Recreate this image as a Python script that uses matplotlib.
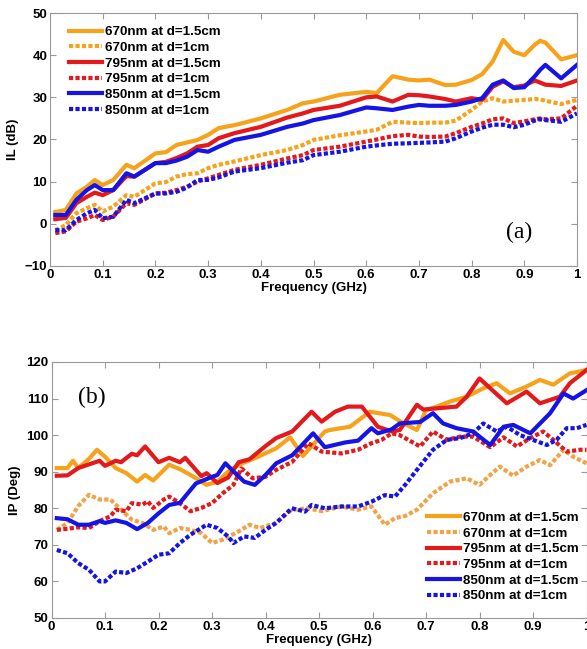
import numpy as np
import matplotlib.pyplot as plt

plt.rcParams['font.family'] = ['Liberation Sans', 'DejaVu Sans']
plt.rcParams['font.weight'] = 'bold'

# ---- panel (a): insertion loss ----
freq_a = [0.01, 0.03, 0.05, 0.07, 0.085, 0.10, 0.12, 0.145, 0.16, 0.20,
          0.22, 0.24, 0.26, 0.28, 0.30, 0.32, 0.35, 0.40, 0.45, 0.48,
          0.50, 0.55, 0.60, 0.62, 0.65, 0.68, 0.70, 0.72, 0.75, 0.77,
          0.80, 0.82, 0.84, 0.86, 0.88, 0.90, 0.92, 0.93, 0.94, 0.97, 1.00]
il_670_15 = [2.8, 3.3, 7.2, 8.8, 10.4, 9.2, 10.4, 14.0, 13.2, 16.7,
             17.0, 18.7, 19.3, 19.9, 21.1, 22.7, 23.4, 25.0, 27.0, 28.6,
             29.0, 30.6, 31.3, 31.0, 35.0, 34.2, 34.0, 34.2, 32.9, 33.0,
             34.1, 35.5, 38.5, 43.6, 40.8, 40.0, 42.5, 43.4, 43.0, 39.0, 40.0]
il_670_1 = [-1.5, -0.3, 2.5, 3.7, 4.5, 2.9, 4.1, 6.8, 6.4, 9.6,
            9.9, 11.2, 11.8, 12.0, 13.2, 14.0, 14.8, 16.3, 17.5, 18.7,
            19.9, 21.0, 21.9, 22.3, 24.2, 24.0, 23.9, 24.0, 24.0, 24.5,
            27.0, 29.0, 29.8, 29.0, 29.2, 29.4, 29.6, 29.5, 29.2, 28.4, 29.4]
il_795_15 = [1.1, 1.4, 4.9, 6.4, 7.4, 6.8, 8.0, 11.3, 11.2, 14.4,
             14.7, 15.6, 16.7, 18.3, 18.7, 20.3, 21.5, 23.0, 25.2, 26.2,
             27.0, 28.0, 30.0, 30.2, 29.0, 30.6, 30.5, 30.2, 29.6, 29.0,
             29.8, 29.4, 32.5, 33.8, 32.4, 32.8, 34.0, 33.5, 33.0, 32.7, 34.0]
il_795_1 = [-2.2, -1.8, 0.5, 1.3, 2.1, 0.9, 1.7, 4.9, 4.5, 7.2,
            7.4, 8.0, 8.8, 10.0, 10.8, 11.6, 12.8, 14.0, 15.5, 16.3,
            17.5, 18.3, 19.5, 20.0, 20.8, 21.1, 20.7, 20.6, 20.7, 21.5,
            23.0, 23.8, 24.8, 25.0, 23.9, 24.3, 24.8, 25.0, 24.8, 25.0, 28.0]
il_850_15 = [2.1, 2.1, 5.7, 8.0, 9.2, 8.0, 8.0, 12.0, 11.2, 14.4,
             14.4, 15.0, 15.9, 17.5, 17.1, 18.3, 19.9, 21.1, 23.0, 23.8,
             24.6, 25.8, 27.6, 27.4, 27.0, 27.8, 28.2, 28.0, 28.0, 28.2,
             29.0, 29.8, 33.0, 34.0, 32.2, 32.4, 35.0, 36.5, 37.7, 34.5, 37.7]
il_850_1 = [-1.5, -1.5, 0.9, 2.5, 3.3, 1.3, 1.7, 5.7, 4.9, 7.2,
            7.2, 7.6, 8.6, 10.4, 10.4, 11.0, 12.4, 13.2, 14.5, 15.1,
            16.3, 17.1, 18.3, 18.6, 19.0, 19.1, 19.2, 19.3, 19.5, 20.3,
            21.9, 22.8, 23.5, 23.5, 22.9, 23.5, 24.5, 24.8, 24.6, 24.2, 26.2]

# ---- panel (b): insertion phase ----
f_670_15 = [0.01, 0.03, 0.04, 0.05, 0.07, 0.085, 0.10, 0.12, 0.14, 0.16,
            0.175, 0.19, 0.22, 0.24, 0.26, 0.29, 0.31, 0.33, 0.35, 0.38,
            0.42, 0.446, 0.47, 0.511, 0.52, 0.558, 0.595, 0.633, 0.657, 0.683,
            0.70, 0.72, 0.745, 0.776, 0.807, 0.832, 0.857, 0.888, 0.913, 0.938,
            0.969, 1.0]
ip_670_15 = [91, 91, 93, 91, 93.5, 96, 94.1, 91, 89.6, 87.3,
             89.1, 87.6, 91.9, 90.7, 89.1, 86.4, 87.3, 90, 91.9, 93.7,
             96.4, 99.4, 94.3, 101, 101.4, 102.3, 106.4, 105.5, 103.3, 101.4,
             106.8, 107.8, 109.2, 110.5, 112.8, 114.2, 111.4, 113.3, 115.1, 113.8,
             116.9, 117.8]
f_670_1 = [0.01, 0.03, 0.05, 0.07, 0.09, 0.11, 0.13, 0.15, 0.17, 0.19,
           0.21, 0.22, 0.24, 0.26, 0.28, 0.30, 0.32, 0.35, 0.37, 0.39,
           0.42, 0.449, 0.48, 0.505, 0.542, 0.573, 0.598, 0.623, 0.642, 0.661,
           0.683, 0.713, 0.745, 0.776, 0.80, 0.82, 0.838, 0.863, 0.888, 0.913,
           0.932, 0.957, 0.975, 1.0]
ip_670_1 = [74.1, 76, 80.6, 83.7, 82.4, 82.4, 79.6, 76.9, 76, 74.1,
            75, 73.2, 74.6, 74.1, 73.2, 70.5, 71.4, 73.7, 75.5, 74.6,
            76, 79.6, 80, 79.2, 80.5, 79.6, 80.5, 75.5, 77.3, 77.9,
            79.6, 84.1, 87.3, 88.2, 86.4, 89.1, 91.4, 88.9, 91.4, 93.2,
            91.8, 96, 94.1, 92.3]
f_795_15 = [0.01, 0.03, 0.05, 0.07, 0.09, 0.10, 0.12, 0.13, 0.15, 0.16,
            0.175, 0.20, 0.22, 0.24, 0.25, 0.28, 0.29, 0.31, 0.33, 0.35,
            0.37, 0.40, 0.42, 0.45, 0.486, 0.505, 0.53, 0.554, 0.58, 0.61,
            0.636, 0.651, 0.683, 0.695, 0.726, 0.757, 0.776, 0.80, 0.851, 0.888,
            0.913, 0.95, 0.969, 1.0]
ip_795_15 = [88.9, 89, 91, 92, 93, 91.6, 93, 92.6, 94.9, 94.5,
             96.9, 92.6, 93.8, 92.6, 93.8, 88.8, 89.6, 86.9, 88.4, 92.6,
             93.4, 97, 99.2, 101, 106.4, 103.7, 106.4, 107.8, 107.8, 102.3,
             101, 101.4, 108.3, 107, 107.4, 107.8, 110.5, 115.5, 108.7, 111.9,
             108.7, 110.5, 114.2, 117.8]
f_795_1 = [0.01, 0.03, 0.05, 0.07, 0.09, 0.11, 0.12, 0.14, 0.15, 0.17,
           0.18, 0.19, 0.21, 0.22, 0.24, 0.26, 0.28, 0.30, 0.32, 0.34,
           0.355, 0.376, 0.40, 0.42, 0.45, 0.48, 0.505, 0.542, 0.573, 0.598,
           0.617, 0.636, 0.651, 0.689, 0.713, 0.739, 0.764, 0.788, 0.82, 0.845,
           0.87, 0.895, 0.919, 0.938, 0.963, 0.988, 1.0]
ip_795_1 = [74.1, 74.4, 74.8, 74.6, 76.5, 77.8, 79.6, 79.2, 81.4, 81,
            81.9, 80.1, 82.4, 83.2, 81.4, 79.2, 80.1, 81.4, 84.1, 86.4,
            90.9, 88.2, 88.6, 90.5, 92.7, 97.8, 95.5, 95, 96, 97.8,
            98.7, 100.5, 100, 96.9, 101, 98.7, 99.6, 99.6, 96.7, 99.4,
            96.9, 99.2, 101, 98.7, 95.5, 96, 96]
f_850_15 = [0.01, 0.03, 0.05, 0.07, 0.09, 0.10, 0.12, 0.14, 0.16, 0.18,
            0.20, 0.22, 0.24, 0.27, 0.30, 0.31, 0.325, 0.34, 0.36, 0.38,
            0.40, 0.42, 0.45, 0.489, 0.511, 0.549, 0.573, 0.598, 0.61, 0.636,
            0.651, 0.689, 0.713, 0.732, 0.757, 0.788, 0.82, 0.845, 0.863, 0.895,
            0.932, 0.957, 0.975, 1.0]
ip_850_15 = [77.3, 77, 75.5, 75.5, 76.5, 76, 76.7, 76, 74.3, 76,
             78.6, 80.9, 81.5, 86.8, 88.6, 89.1, 92.3, 90.1, 87.3, 86.4,
             89.1, 92.3, 94.5, 100.5, 96.7, 98, 98.5, 101.9, 100.5, 101.6,
             103.2, 103.6, 106, 103.2, 101.9, 101, 97.3, 102.3, 102.8, 100.5,
             106, 111.4, 110, 112.3]
f_850_1 = [0.01, 0.03, 0.05, 0.07, 0.09, 0.10, 0.12, 0.14, 0.16, 0.18,
           0.20, 0.22, 0.24, 0.26, 0.28, 0.29, 0.31, 0.33, 0.34, 0.36,
           0.38, 0.40, 0.42, 0.449, 0.474, 0.486, 0.511, 0.542, 0.573, 0.598,
           0.623, 0.642, 0.661, 0.683, 0.713, 0.739, 0.764, 0.788, 0.807, 0.832,
           0.851, 0.876, 0.90, 0.926, 0.944, 0.963, 0.982, 1.0]
ip_850_1 = [68.6, 67.7, 65, 63.2, 60, 60, 62.7, 62.3, 63.6, 65.4,
            67.3, 67.7, 70.5, 72.8, 74.6, 75.5, 74.6, 72.3, 70.5, 72.3,
            71.9, 74.1, 76, 80, 79.1, 80.9, 80, 80.5, 80.5, 81.8,
            83.6, 83.2, 86.4, 90.5, 96, 98.7, 99.2, 100.5, 103.2, 101,
            102.3, 100, 98.7, 97.3, 98.7, 101.9, 101.9, 102.8]

labels = ['670nm at d=1.5cm', '670nm at d=1cm', '795nm at d=1.5cm',
          '795nm at d=1cm', '850nm at d=1.5cm', '850nm at d=1cm']
c_or = '#F7A21B'
c_or2 = '#F2A348'
c_red = '#E3191C'
c_blue = '#1414E6'
DOT = (0, (1.0, 0.55))


def style_axes(ax):
    for s in ax.spines.values():
        s.set_color('#9a9a9a')
        s.set_linewidth(0.8)
    ax.tick_params(direction='in', top=True, right=True, length=4,
                   width=0.8, color='#9a9a9a', labelsize=9.5, pad=2)
    for t in ax.get_xticklabels() + ax.get_yticklabels():
        t.set_fontweight('bold')
    ax.set_xlim(0, 1)
    ax.set_xticks(np.arange(0, 1.01, 0.1))
    ax.set_xticklabels(['0', '0.1', '0.2', '0.3', '0.4', '0.5', '0.6',
                        '0.7', '0.8', '0.9', '1'])


fig = plt.figure(figsize=(5.87, 6.49), dpi=100)

ax1 = fig.add_axes([50 / 587, 1 - 266 / 649, 527 / 587, 253 / 649])
lw = 3.0
ax1.plot(freq_a, il_670_15, color=c_or, lw=lw, label=labels[0])
ax1.plot(freq_a, il_670_1, color=c_or, lw=lw, ls=DOT, label=labels[1])
ax1.plot(freq_a, il_795_15, color=c_red, lw=lw, label=labels[2])
ax1.plot(freq_a, il_795_1, color=c_red, lw=lw, ls=DOT, label=labels[3])
ax1.plot(freq_a, il_850_15, color=c_blue, lw=lw, label=labels[4])
ax1.plot(freq_a, il_850_1, color=c_blue, lw=lw, ls=DOT, label=labels[5])
ax1.set_ylim(-10, 50)
ax1.set_yticks(range(-10, 51, 10))
style_axes(ax1)
ax1.set_xlabel('Frequency (GHz)', fontsize=9.5, fontweight='bold', labelpad=1)
ax1.set_ylabel('IL (dB)', fontsize=9.5, fontweight='bold', labelpad=4)
ax1.legend(loc='upper left', bbox_to_anchor=(0.02, 0.98), frameon=False,
           fontsize=9.6, handlelength=2.5, handletextpad=0.2,
           labelspacing=0.25, borderaxespad=0.2)
ax1.text(0.865, 0.11, '(a)', transform=ax1.transAxes, fontsize=17,
         family='Liberation Serif', fontweight='normal')

ax2 = fig.add_axes([51.5 / 587, 1 - 618 / 649, 535 / 587, 256 / 649])
ax2.plot(f_670_15, ip_670_15, color=c_or, lw=lw, label=labels[0])
ax2.plot(f_670_1, ip_670_1, color=c_or2, lw=lw, ls=DOT, label=labels[1])
ax2.plot(f_795_15, ip_795_15, color=c_red, lw=lw, label=labels[2])
ax2.plot(f_795_1, ip_795_1, color=c_red, lw=lw, ls=DOT, label=labels[3])
ax2.plot(f_850_15, ip_850_15, color=c_blue, lw=lw, label=labels[4])
ax2.plot(f_850_1, ip_850_1, color=c_blue, lw=lw, ls=DOT, label=labels[5])
ax2.set_ylim(50, 120)
ax2.set_yticks(range(50, 121, 10))
style_axes(ax2)
ax2.set_xlabel('Frequency (GHz)', fontsize=9.5, fontweight='bold', labelpad=1)
ax2.set_ylabel('IP (Deg)', fontsize=9.5, fontweight='bold', labelpad=4)
ax2.legend(loc='lower right', bbox_to_anchor=(1.0, 0.03), frameon=False,
           fontsize=9.6, handlelength=2.5, handletextpad=0.2,
           labelspacing=0.25, borderaxespad=0.2)
ax2.text(0.05, 0.84, '(b)', transform=ax2.transAxes, fontsize=17,
         family='Liberation Serif', fontweight='normal')

fig.savefig('out.png', dpi=100)
